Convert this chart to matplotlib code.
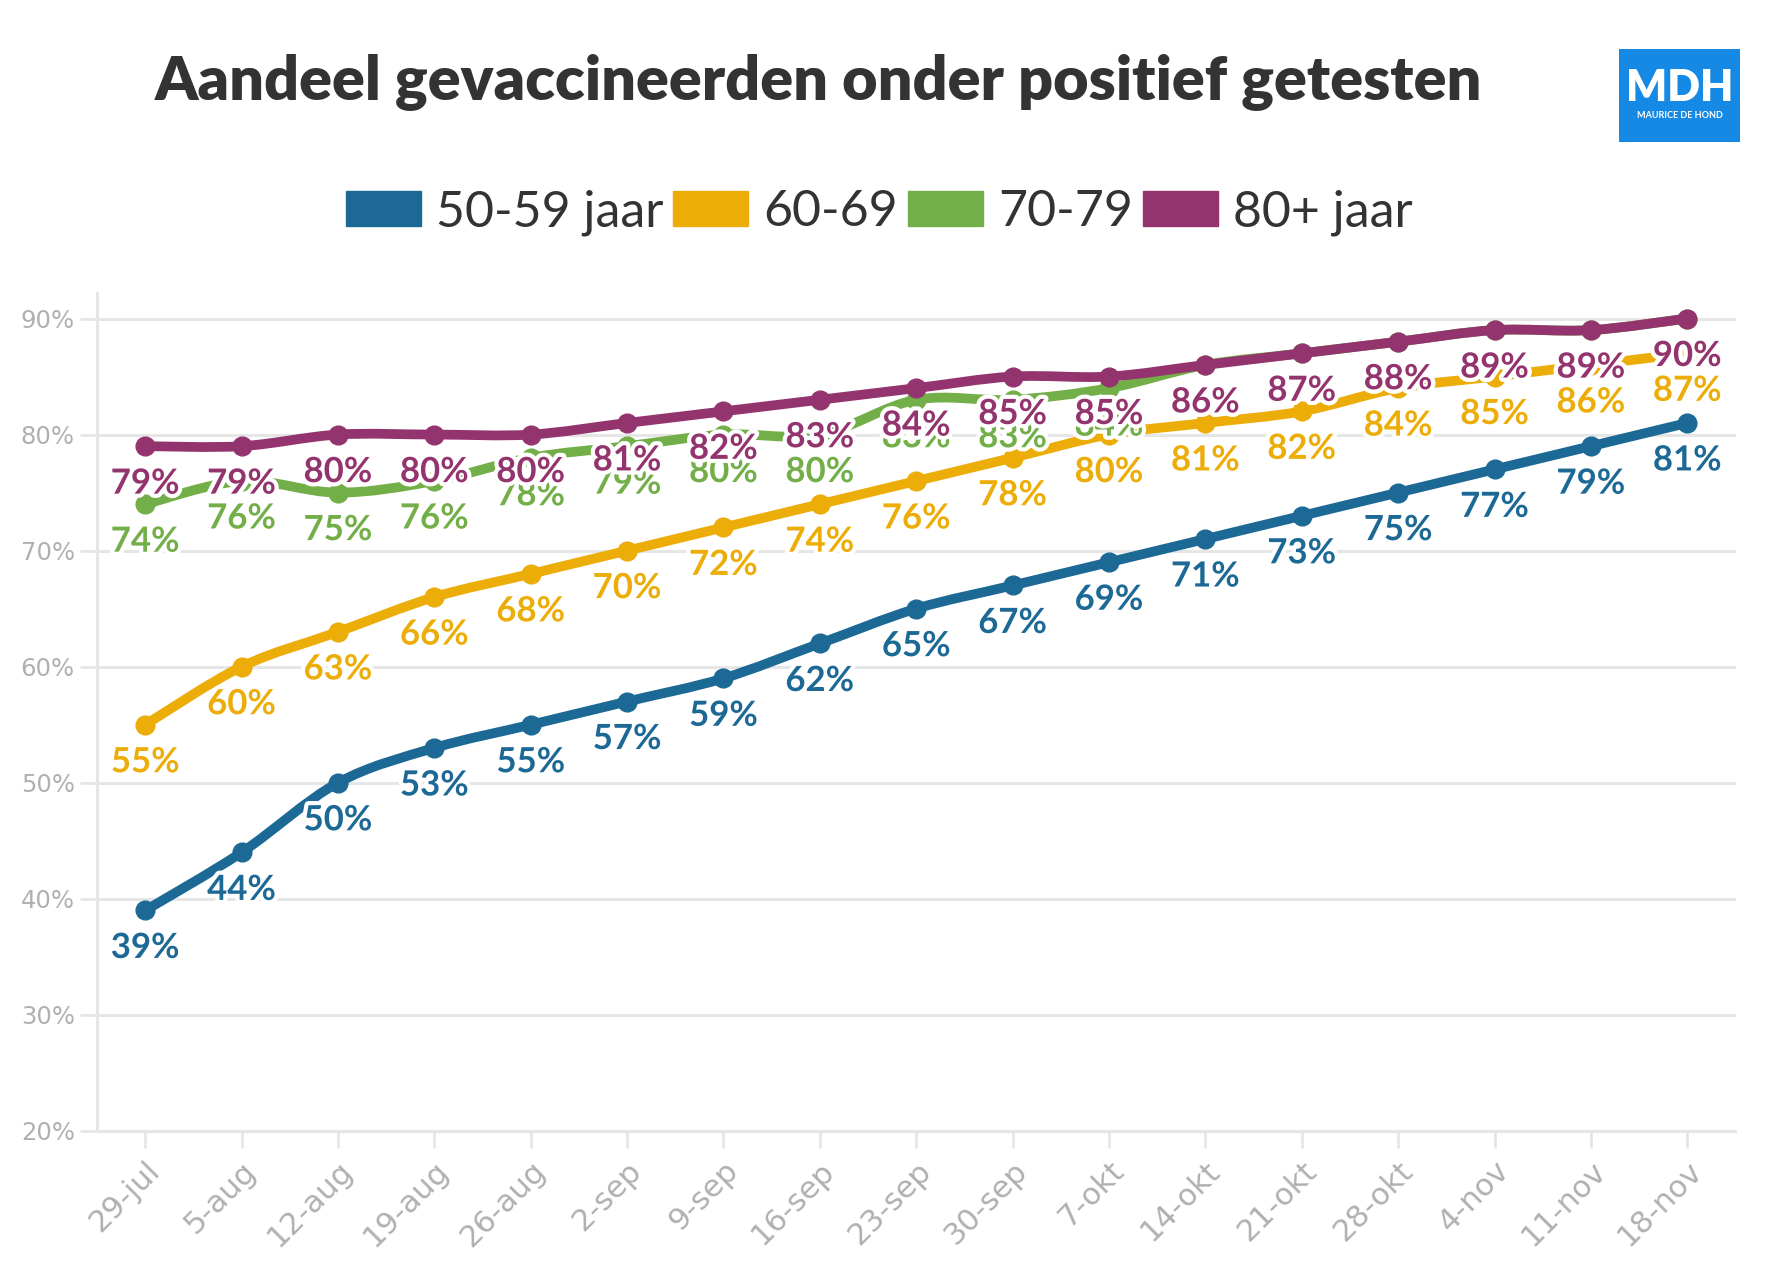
import numpy as np
import matplotlib
matplotlib.use("Agg")
import matplotlib.pyplot as plt
from matplotlib.path import Path
from matplotlib.patches import PathPatch, Patch
import matplotlib.patheffects as pe

dates = ["29-jul", "5-aug", "12-aug", "19-aug", "26-aug", "2-sep", "9-sep", "16-sep",
         "23-sep", "30-sep", "7-okt", "14-okt", "21-okt", "28-okt", "4-nov", "11-nov", "18-nov"]
names = ["50-59 jaar", "60-69", "70-79", "80+ jaar"]
v50 = [39, 44, 50, 53, 55, 57, 59, 62, 65, 67, 69, 71, 73, 75, 77, 79, 81]
v60 = [55, 60, 63, 66, 68, 70, 72, 74, 76, 78, 80, 81, 82, 84, 85, 86, 87]
v70 = [74, 76, 75, 76, 78, 79, 80, 80, 83, 83, 84, 86, 87, 88, 89, 89, 90]
v80 = [79, 79, 80, 80, 80, 81, 82, 83, 84, 85, 85, 86, 87, 88, 89, 89, 90]
colors = ["#1D6996", "#EDAD08", "#73AF48", "#94346E"]
series = [v50, v60, v70, v80]

FONT = "Lato"


def smooth_path(x, y, t=0.5):
    # cubic bezier through the points (catmull-rom style)
    pts = np.column_stack([x, y]).astype(float)
    verts = [pts[0]]
    codes = [Path.MOVETO]
    n = len(pts)
    for i in range(n - 1):
        p0 = pts[i - 1] if i > 0 else pts[i]
        p1 = pts[i]
        p2 = pts[i + 1]
        p3 = pts[i + 2] if i + 2 < n else pts[i + 1]
        c1 = p1 + (p2 - p0) * t / 3
        c2 = p2 - (p3 - p1) * t / 3
        verts += [c1, c2, p2]
        codes += [Path.CURVE4] * 3
    return Path(verts, codes)


fig = plt.figure(figsize=(17.8, 12.81), dpi=100)
ax = fig.add_axes([0.0545, 0.1171, 0.9205, 0.6542])
x = np.arange(len(dates))

for k, (vals, c) in enumerate(zip(series, colors)):
    ax.add_patch(PathPatch(smooth_path(x, vals), fill=False, edgecolor=c, lw=7,
                           capstyle="round", joinstyle="round", zorder=3 + k))
    ax.plot(x, vals, "o", color=c, markersize=13.5, zorder=3 + k)

for k, (vals, c) in enumerate(zip(series, colors)):
    for xi, v in zip(x, vals):
        ax.annotate(f"{v}%", (xi, v), xytext=(0, -27), textcoords="offset points",
                    ha="center", va="center", fontsize=25, fontweight="bold",
                    family=FONT, color=c, zorder=20 + k,
                    path_effects=[pe.withStroke(linewidth=6, foreground="white")])

ax.set_xlim(-0.5, 16.5)
ax.set_ylim(20, 92.2)
ax.set_yticks(range(20, 91, 10))
ax.set_yticklabels([f"{t}%" for t in range(20, 91, 10)])
ax.set_xticks(x)
ax.set_xticklabels(dates, rotation=45, ha="right", rotation_mode="anchor")
ax.grid(axis="y", color="#e6e6e6", lw=2.2, zorder=0)
ax.set_axisbelow(True)
for s in ["top", "right"]:
    ax.spines[s].set_visible(False)
for s in ["left", "bottom"]:
    ax.spines[s].set_color("#e6e6e6")
    ax.spines[s].set_linewidth(2.2)
ax.tick_params(axis="y", length=12, width=2, color="#e6e6e6", labelcolor="#b0b0b0",
               labelsize=17.5, pad=4)
ax.tick_params(axis="x", length=12, width=2, color="#e6e6e6", labelcolor="#b0b0b0",
               labelsize=22, pad=6)
for lab in ax.get_yticklabels():
    lab.set_family("DejaVu Sans")
for lab in ax.get_xticklabels():
    lab.set_family("DejaVu Sans")

fig.text(0.46, 0.936, "Aandeel gevaccineerden onder positief getesten", ha="center",
         va="center", fontsize=44, fontweight="heavy", family=FONT, color="#333333")

handles = [Patch(facecolor=c, edgecolor=c) for c in colors]
leg = fig.legend(handles, names, loc="center", bbox_to_anchor=(0.494, 0.834), ncol=4,
                 frameon=False, fontsize=36, handlelength=1.5, handleheight=0.7,
                 handletextpad=0.3, columnspacing=0.2)
for t in leg.get_texts():
    t.set_family(FONT)
    t.set_color("#333333")

# logo
logo = fig.add_axes([0.9096, 0.889, 0.068, 0.0726])
logo.set_xlim(0, 1)
logo.set_ylim(0, 1)
logo.axis("off")
logo.add_patch(plt.Rectangle((0, 0), 1, 1, color="#1689E5"))
logo.text(0.5, 0.58, "MDH", ha="center", va="center", color="white", fontsize=31,
          fontweight="heavy", family=FONT)
logo.text(0.5, 0.29, "MAURICE DE HOND", ha="center", va="center", color="white",
          fontsize=6.5, fontweight="bold", family=FONT)

fig.savefig("out.png", dpi=100, facecolor="white")
